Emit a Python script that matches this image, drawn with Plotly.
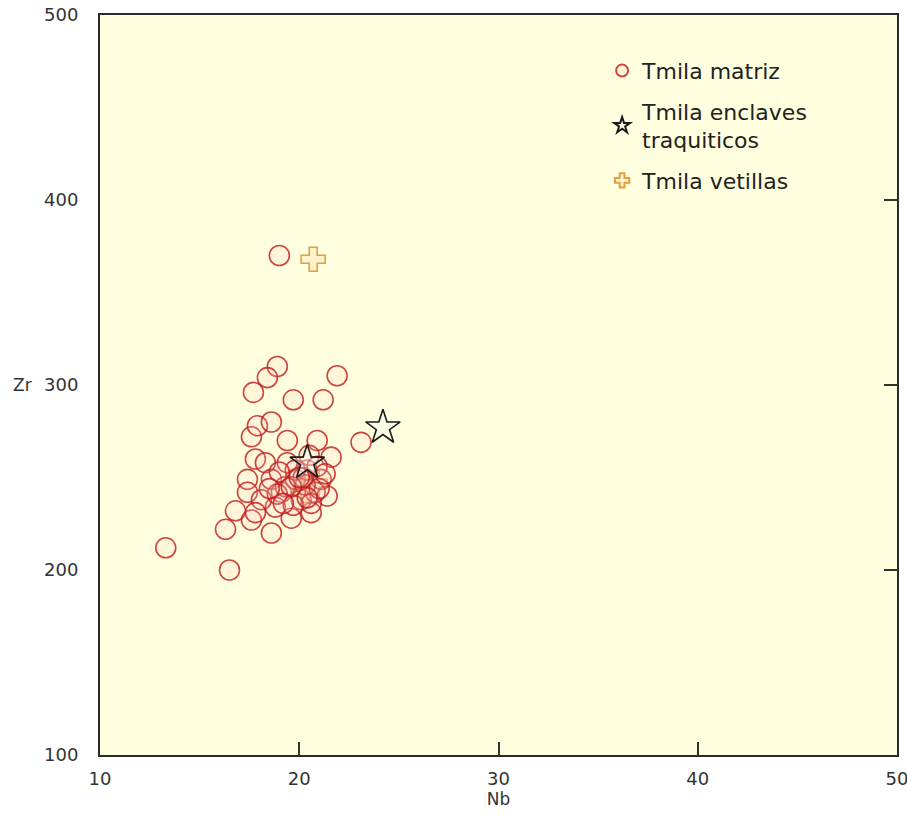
import plotly.graph_objects as go

# Tmila matriz (Nb, Zr)
matriz_nb = [13.3, 16.5, 16.3, 16.8, 17.6, 18.6, 19.6, 20.6, 21.4, 21.6, 20.9, 23.1,
             19.4, 17.6, 17.9, 18.6, 17.8, 17.4, 17.4, 18.3, 18.6, 19.1, 19.8, 20.4,
             21.1, 20.1, 18.8, 18.1, 20.8, 19.4, 17.8, 18.9, 18.4, 17.7, 19.7, 21.2,
             21.9, 19.0, 19.8, 20.3, 19.3, 20.6, 19.0, 20.2, 21.0, 18.9, 19.7, 20.5,
             19.6, 20.0, 20.9, 19.2, 20.4, 18.5, 21.3]
matriz_zr = [212, 200, 222, 232, 227, 220, 228, 231, 240, 261, 270, 269,
             270, 272, 278, 280, 260, 249, 242, 258, 249, 242, 249, 254,
             249, 238, 234, 238, 242, 258, 231, 310, 304, 296, 292, 292,
             305, 370, 254, 246, 245, 236, 253, 250, 244, 241, 235, 262,
             245, 250, 256, 236, 239, 244, 252]

# Tmila enclaves traquiticos
enclaves_nb = [24.2, 20.4]
enclaves_zr = [277, 258]

# Tmila vetillas
vetillas_nb = [20.7, 20.3, 20.8]
vetillas_zr = [368, 243, 247]

FONT = "DejaVu Sans, Arial"

fig = go.Figure()
fig.add_trace(go.Scatter(
    x=vetillas_nb, y=vetillas_zr, mode="markers", name="Tmila vetillas", legendrank=3,
    legendgroup="c",
    marker=dict(symbol="cross", size=20, color="rgba(255,238,195,0.7)",
                line=dict(color="#e0a040", width=1.6))))
fig.add_trace(go.Scatter(
    x=matriz_nb, y=matriz_zr, mode="markers", name="Tmila matriz", legendrank=1,
    legendgroup="a",
    marker=dict(symbol="circle", size=20, color="rgba(255,205,195,0.18)",
                line=dict(color="rgba(190,25,25,0.8)", width=1.6))))
fig.add_trace(go.Scatter(
    x=enclaves_nb, y=enclaves_zr, mode="markers", name="Tmila enclaves<br>traquiticos",
    legendrank=2, legendgroup="b",
    marker=dict(symbol="star", size=26, color="rgba(240,250,240,0.35)",
                line=dict(color="#1a1a1a", width=1.6))))
# invisible trace to carry the right-side y ticks
fig.add_trace(go.Scatter(x=[None], y=[None], yaxis="y2", showlegend=False,
                         hoverinfo="skip"))

fig.add_annotation(text="Zr", xref="paper", yref="y", x=-0.112, y=300,
                   xanchor="left", showarrow=False,
                   font=dict(size=17, color="#333333", family=FONT))

tickfont = dict(size=18, color="#333333", family=FONT)

fig.update_layout(
    width=907, height=821,
    margin=dict(l=100, r=10, t=15, b=66, autoexpand=False),
    paper_bgcolor="white", plot_bgcolor="#ffffdf",
    font=dict(family=FONT, color="#222222"),
    xaxis=dict(range=[10, 50], tickvals=[10, 20, 30, 40, 50], ticklabelstandoff=6,
               automargin=False, ticklabeloverflow="allow",
               showgrid=False, zeroline=False, showline=True, linecolor="#2a2a2a",
               linewidth=2, mirror=True, ticks="inside", ticklen=13, tickwidth=2,
               tickcolor="#333333", tickfont=tickfont,
               title=dict(text="Nb", font=dict(size=17, color="#333333"), standoff=4)),
    yaxis=dict(range=[100, 500], tickvals=[100, 200, 300, 400, 500], ticklabelstandoff=16,
               automargin=False, ticklabeloverflow="allow",
               showgrid=False, zeroline=False, showline=True, linecolor="#2a2a2a",
               linewidth=2, mirror=True, ticks="", tickfont=tickfont),
    yaxis2=dict(range=[100, 500], tickvals=[100, 200, 300, 400, 500], overlaying="y",
                side="right", showticklabels=False, showgrid=False, zeroline=False,
                showline=False, ticks="inside", ticklen=13, tickwidth=2,
                tickcolor="#333333", automargin=False),
    legend=dict(x=0.63, y=0.953, xanchor="left", yanchor="top",
                bgcolor="rgba(0,0,0,0)", font=dict(size=22, color="#222222", family=FONT),
                itemsizing="constant", tracegroupgap=9),
    showlegend=True,
)

fig.write_html("out.html")
